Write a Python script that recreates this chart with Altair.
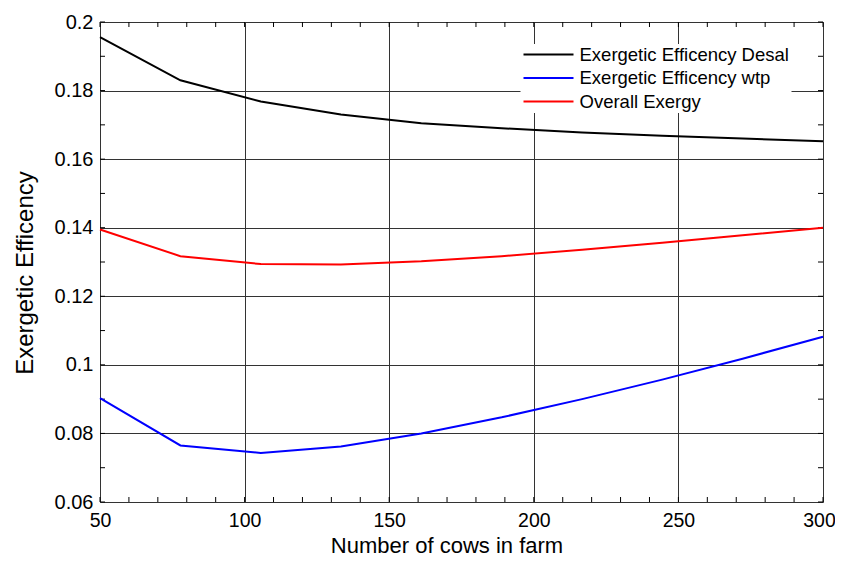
import altair as alt
import pandas as pd

cows = [50, 77.8, 105.6, 133.3, 161.1, 188.9, 216.7, 244.4, 272.2, 300]
desal = [0.1956, 0.1830, 0.1768, 0.1730, 0.1705, 0.1690, 0.1678, 0.1668, 0.1660, 0.1652]
wtp = [0.0903, 0.0765, 0.0743, 0.0762, 0.0800, 0.0847, 0.0900, 0.0957, 0.1018, 0.1082]
overall = [0.1395, 0.1317, 0.1294, 0.1293, 0.1302, 0.1317, 0.1336, 0.1356, 0.1378, 0.1400]
series_names = ["Exergetic Efficency Desal", "Exergetic Efficency wtp", "Overall Exergy"]
series_colors = ["#000000", "#0000ff", "#ff0000"]

x_major = [50, 100, 150, 200, 250, 300]
x_minor = list(range(50, 301, 10))
y_major = [0.06, 0.08, 0.1, 0.12, 0.14, 0.16, 0.18, 0.2]
y_minor = [round(0.06 + 0.01 * i, 2) for i in range(15)]

rows = []
for name, vals in zip(series_names, [desal, wtp, overall]):
    for c, v in zip(cows, vals):
        rows.append({"x": c, "y": v, "series": name})
df = pd.DataFrame(rows)
dfx = pd.DataFrame({"x": x_minor})
dfy = pd.DataFrame({"y": y_minor})

FONT = "Liberation Sans"
W, H = 723, 480

X = alt.X("x:Q", scale=alt.Scale(domain=[50, 300], nice=False, zero=False),
          title="Number of cows in farm",
          axis=alt.Axis(values=x_major, grid=True, ticks=False, domain=False,
                        labelFontSize=19.5, titleFontSize=22, labelPadding=9,
                        labelFont=FONT, titleFont=FONT,
                        labelOffset={"expr": "datum.value == 300 ? -4 : 0"},
                        labelColor="#000", titleColor="#000", titleFontWeight="normal",
                        titleX=346.5, titleY=50, titleAlign="center",
                        titleBaseline="alphabetic",
                        gridColor="#333333", gridWidth=1, labelFlush=False))
Y = alt.Y("y:Q", scale=alt.Scale(domain=[0.06, 0.2], nice=False, zero=False),
          title="Exergetic Efficency",
          axis=alt.Axis(values=y_major, format="~g", grid=True, ticks=False, domain=False,
                        labelFontSize=20, titleFontSize=24, labelPadding=7,
                        labelFont=FONT, titleFont=FONT,
                        labelColor="#000", titleColor="#000", titleFontWeight="normal",
                        titleAngle=270, titleX=-68, titleY=250.5, titleAlign="center",
                        titleBaseline="alphabetic",
                        gridColor="#333333", gridWidth=1, labelFlush=False))

lines = alt.Chart(df).mark_line(strokeWidth=2).encode(
    x=X, y=Y,
    color=alt.Color("series:N",
                    scale=alt.Scale(domain=series_names, range=series_colors),
                    sort=series_names,
                    legend=alt.Legend(title=None, orient="none", legendX=420.5, legendY=22,
                                      symbolType="stroke", symbolSize=2500,
                                      symbolStrokeWidth=2, labelFontSize=18.5,
                                      labelFont=FONT, labelColor="#000",
                                      clipHeight=17, rowPadding=4.5, labelOffset=5,
                                      labelLimit=400,
                                      fillColor="white", padding=2)),
)

tick_bottom = alt.Chart(dfx).mark_rule(color="black", strokeWidth=1).encode(
    x=X, y=alt.value(H - 5), y2=alt.value(H))
tick_top = alt.Chart(dfx).mark_rule(color="black", strokeWidth=1).encode(
    x=X, y=alt.value(0), y2=alt.value(5))
tick_left = alt.Chart(dfy).mark_rule(color="black", strokeWidth=1).encode(
    y=Y, x=alt.value(0), x2=alt.value(5))
tick_right = alt.Chart(dfy).mark_rule(color="black", strokeWidth=1).encode(
    y=Y, x=alt.value(W - 5), x2=alt.value(W))

chart = alt.layer(tick_bottom, tick_top, tick_left, tick_right, lines).properties(
    width=W, height=H,
    autosize=alt.AutoSizeParams(type="none"),
    padding={"left": 92, "top": 14, "right": 12, "bottom": 55},
).configure_view(stroke="black", strokeWidth=1.5).configure(background="white")

chart.save("out.html", embed_options={"renderer": "svg", "actions": False})
